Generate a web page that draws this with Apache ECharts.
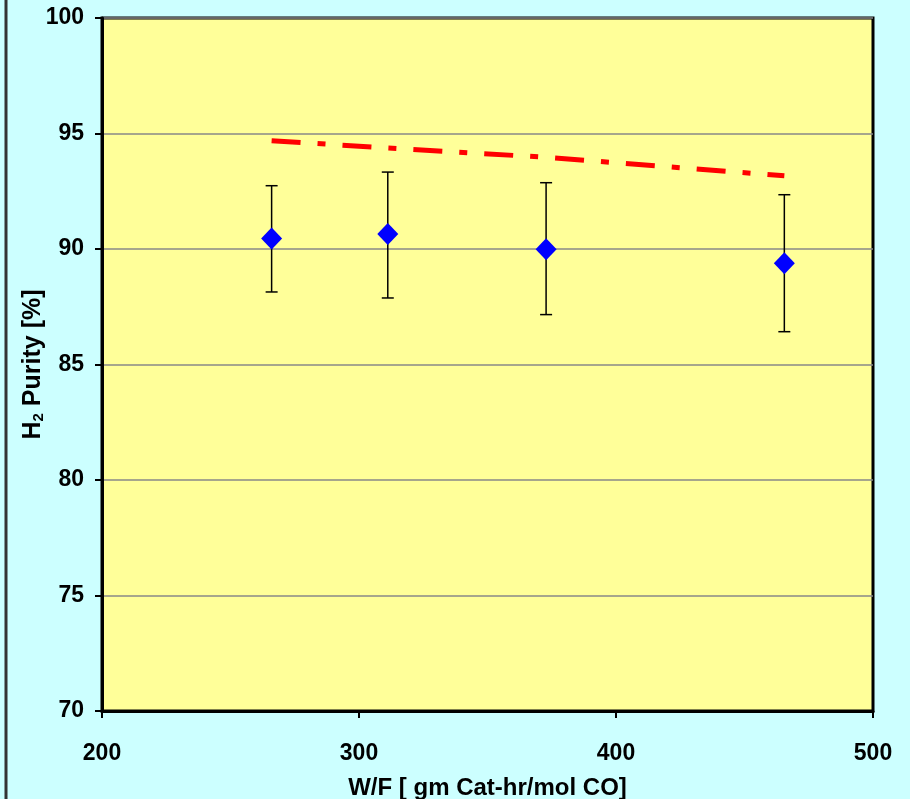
<!DOCTYPE html>
<html>
<head>
<meta charset="utf-8">
<script src="https://cdn.jsdelivr.net/npm/echarts@6/dist/echarts.min.js"></script>
<style>
html,body{margin:0;padding:0;background:#CCFFFF;}
#chart{width:910px;height:799px;}
</style>
</head>
<body>
<div id="chart"></div>
<script>
// Experimental data
const wfValues = [266, 311.2, 372.8, 465.5];
const purityValues = [90.45, 90.65, 89.99, 89.38];
const errorLow = [88.14, 87.88, 87.16, 86.42];
const errorHigh = [92.74, 93.33, 92.87, 92.35];
// Model line
const modelWF = [266, 311.2, 372.8, 465.5];
const modelPurity = [94.69, 94.37, 93.97, 93.17];
// Axis ticks
const xTicks = [200, 300, 400, 500];
const yTicks = [70, 75, 80, 85, 90, 95, 100];

const FONT = '"Liberation Sans", Arial, sans-serif';
const chart = echarts.init(document.getElementById('chart'));

const scatterData = wfValues.map((x, i) => [x, purityValues[i]]);
const errData = wfValues.map((x, i) => [x, errorLow[i], errorHigh[i]]);
const modelData = modelWF.map((x, i) => [x, modelPurity[i]]);

chart.setOption({
  backgroundColor: '#CCFFFF',
  animation: false,
  graphic: [{
    type: 'line',
    shape: {x1: 6, y1: 0, x2: 6, y2: 799},
    style: {stroke: '#333333', lineWidth: 3}
  }],
  grid: {
    left: 102, right: 37, top: 18, bottom: 88,
    containLabel: false,
    outerBoundsMode: 'none',
    show: true, backgroundColor: '#FFFF99',
    borderColor: '#000000', borderWidth: 3
  },
  xAxis: {
    type: 'value',
    min: xTicks[0], max: xTicks[xTicks.length - 1], interval: 100,
    name: 'W/F [ gm Cat-hr/mol CO]',
    nameLocation: 'middle', nameGap: 65,
    nameTextStyle: {fontFamily: FONT, fontWeight: 'bold', fontSize: 24, color: '#000'},
    axisLine: {show: true, onZero: false, lineStyle: {color: '#000', width: 3}},
    axisTick: {show: true, length: 7, lineStyle: {color: '#000', width: 2}},
    axisLabel: {fontFamily: FONT, fontWeight: 'bold', fontSize: 23, color: '#000', margin: 31},
    splitLine: {show: false}
  },
  yAxis: {
    type: 'value',
    min: yTicks[0], max: yTicks[yTicks.length - 1], interval: 5,
    name: '{b|H}{s|2}{b| Purity [%]}',
    nameLocation: 'middle', nameGap: 56, nameRotate: 90,
    nameMoveOverlap: false,
    nameTextStyle: {
      rich: {
        b: {fontFamily: FONT, fontWeight: 'bold', fontSize: 25, color: '#000'},
        s: {fontFamily: FONT, fontWeight: 'bold', fontSize: 15, color: '#000', verticalAlign: 'bottom', padding: [8, 0, 0, 0]}
      }
    },
    axisLine: {show: true, onZero: false, lineStyle: {color: '#000', width: 3}},
    axisTick: {show: true, length: 7, lineStyle: {color: '#000', width: 2}},
    axisLabel: {fontFamily: FONT, fontWeight: 'bold', fontSize: 23, color: '#000', margin: 18},
    splitLine: {show: true, lineStyle: {color: '#888888', width: 1.5}}
  },
  series: [
    {
      type: 'line',
      data: modelData,
      showSymbol: false,
      smooth: false,
      lineStyle: {color: '#FF0000', width: 5, type: [29, 17, 8, 17], cap: 'butt'},
      z: 3
    },
    {
      type: 'custom',
      data: errData,
      z: 4,
      renderItem: function (params, api) {
        const x = api.value(0);
        const lo = api.coord([x, api.value(1)]);
        const hi = api.coord([x, api.value(2)]);
        const hw = 6;
        const st = {stroke: '#000', lineWidth: 1.5};
        return {
          type: 'group',
          children: [
            {type: 'line', shape: {x1: hi[0], y1: hi[1], x2: lo[0], y2: lo[1]}, style: st},
            {type: 'line', shape: {x1: hi[0] - hw, y1: hi[1], x2: hi[0] + hw, y2: hi[1]}, style: st},
            {type: 'line', shape: {x1: lo[0] - hw, y1: lo[1], x2: lo[0] + hw, y2: lo[1]}, style: st}
          ]
        };
      }
    },
    {
      type: 'scatter',
      data: scatterData,
      symbol: 'diamond',
      symbolSize: [21, 22],
      itemStyle: {color: '#0000FF', opacity: 1},
      z: 5
    }
  ]
});
</script>
</body>
</html>
